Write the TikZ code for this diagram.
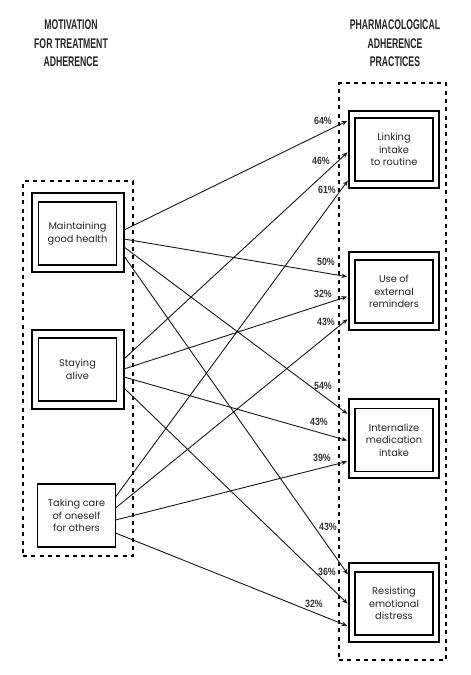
\documentclass[tikz,border=0pt]{standalone}
\usepackage{fontspec}
\setmainfont{Poppins}
\newfontfamily\headfont[FakeStretch=0.62]{Liberation Sans}
\newfontfamily\pctfont[FakeStretch=0.84]{Liberation Sans}
\usetikzlibrary{arrows.meta,calc}
\begin{document}
\begin{tikzpicture}[x=1pt,y=-1pt,
  header/.style={font=\headfont\bfseries\fontsize{14}{18.5}\selectfont, align=center, text=black!85, inner sep=0pt},
  groupbox/.style={draw, line width=2pt, dash pattern=on 4pt off 4.3pt, inner sep=0pt, outer sep=0pt},
  outerbox/.style={draw, line width=1.2pt, minimum width=92pt, minimum height=79pt, inner sep=0pt, outer sep=0pt},
  rightbox/.style={draw, line width=1.2pt, minimum width=90pt, minimum height=78pt, inner sep=0pt, outer sep=0pt},
  innerbox/.style={draw, line width=1.3pt, minimum width=78pt, minimum height=63pt, inner sep=0pt, outer sep=0pt,
     align=center, font=\fontsize{9.8}{12.5}\selectfont, text=black!85},
  conn/.style={draw=black!90, line width=0.9pt, -{Stealth[length=5.5pt,width=4.5pt]}, shorten >=2pt},
  pct/.style={font=\pctfont\bfseries\fontsize{10.5}{12}\selectfont, text=black!80, inner sep=0pt}
]
\useasboundingbox (0,0) rectangle (471,675);
\fill[white] (0,0) rectangle (471,675);

% headers
\node[header] (h1) at (71,43.5) {MOTIVATION\\FOR TREATMENT\\ADHERENCE};
\node[header] (h2) at (395,43.5) {PHARMACOLOGICAL\\ADHERENCE\\PRACTICES};

% group boxes
\node[groupbox, minimum width=110pt, minimum height=375pt] (lg) at (78,368.5) {};
\node[groupbox, minimum width=107pt, minimum height=577pt] (rg) at (392.5,371.5) {};

% left nodes
\node[outerbox] (m) at (78,232.5) {};
\node[innerbox] (mi) at (77.5,233.5) {Maintaining\\good health};
\node[outerbox] (s) at (78,369.5) {};
\node[innerbox] (si) at (77.5,369.5) {Staying\\alive};
\node[innerbox, line width=1.1pt] (t) at (76.5,515.5) {Taking care\\of oneself\\for others};

% right nodes
\node[rightbox, minimum height=77pt] (l) at (394,149.5) {};
\node[innerbox] (li) at (394,149.5) {Linking\\intake\\to routine};
\node[rightbox] (u) at (394,291) {};
\node[innerbox] (ui) at (394,291.5) {Use of\\external\\reminders};
\node[rightbox, minimum height=79pt] (i) at (394,438.5) {};
\node[innerbox] (ii) at (394,440) {Internalize\\medication\\intake};
\node[rightbox, minimum height=79pt] (r) at (394,602.5) {};
\node[innerbox] (ri) at (394,603.5) {Resisting\\emotional\\distress};

% connectors from Maintaining good health
\draw[conn] ($(m.east)+(0,-2.5)$) -- ($(l.west)+(0,-29.5)$);
\draw[conn] ($(m.east)+(0,6.5)$)  -- ($(u.west)+(0,-14)$);
\draw[conn] ($(m.east)+(0,14.5)$) -- ($(i.west)+(0,-23.5)$);
\draw[conn] ($(m.east)+(0,23.5)$) -- ($(r.west)+(0,-26.5)$);
% connectors from Staying alive
\draw[conn] ($(s.east)+(0,-10.5)$) -- ($(l.west)+(0,1.5)$);
\draw[conn] ($(s.east)+(0,-0.5)$)  -- ($(u.west)+(0,5)$);
\draw[conn] ($(s.east)+(0,7.5)$)   -- ($(i.west)+(0,2.5)$);
\draw[conn] ($(s.east)+(0,18.5)$)  -- ($(r.west)+(0,2.5)$);
% connectors from Taking care of oneself for others
\draw[conn] ($(t.east)+(0,-18.5)$) -- ($(l.west)+(0,29.5)$);
\draw[conn] ($(t.east)+(0,-7.5)$)  -- ($(u.west)+(0,27)$);
\draw[conn] ($(t.east)+(0,4.5)$)   -- ($(i.west)+(0,22.5)$);
\draw[conn] ($(t.east)+(0,17.5)$)  -- ($(r.west)+(0,24)$);

% percentage labels
\node[pct] (p1) at (323,121) {64\%};
\node[pct] (p2) at (321,161) {46\%};
\node[pct] (p3) at (327,190) {61\%};
\node[pct] (p4) at (326,262) {50\%};
\node[pct] (p5) at (323,294) {32\%};
\node[pct] (p6) at (326,322) {43\%};
\node[pct] (p7) at (323,386) {54\%};
\node[pct] (p8) at (319,422) {43\%};
\node[pct] (p9) at (322,458) {39\%};
\node[pct] (p10) at (328,527) {43\%};
\node[pct] (p11) at (327,572) {36\%};
\node[pct] (p12) at (314,604) {32\%};
\end{tikzpicture}
\end{document}
